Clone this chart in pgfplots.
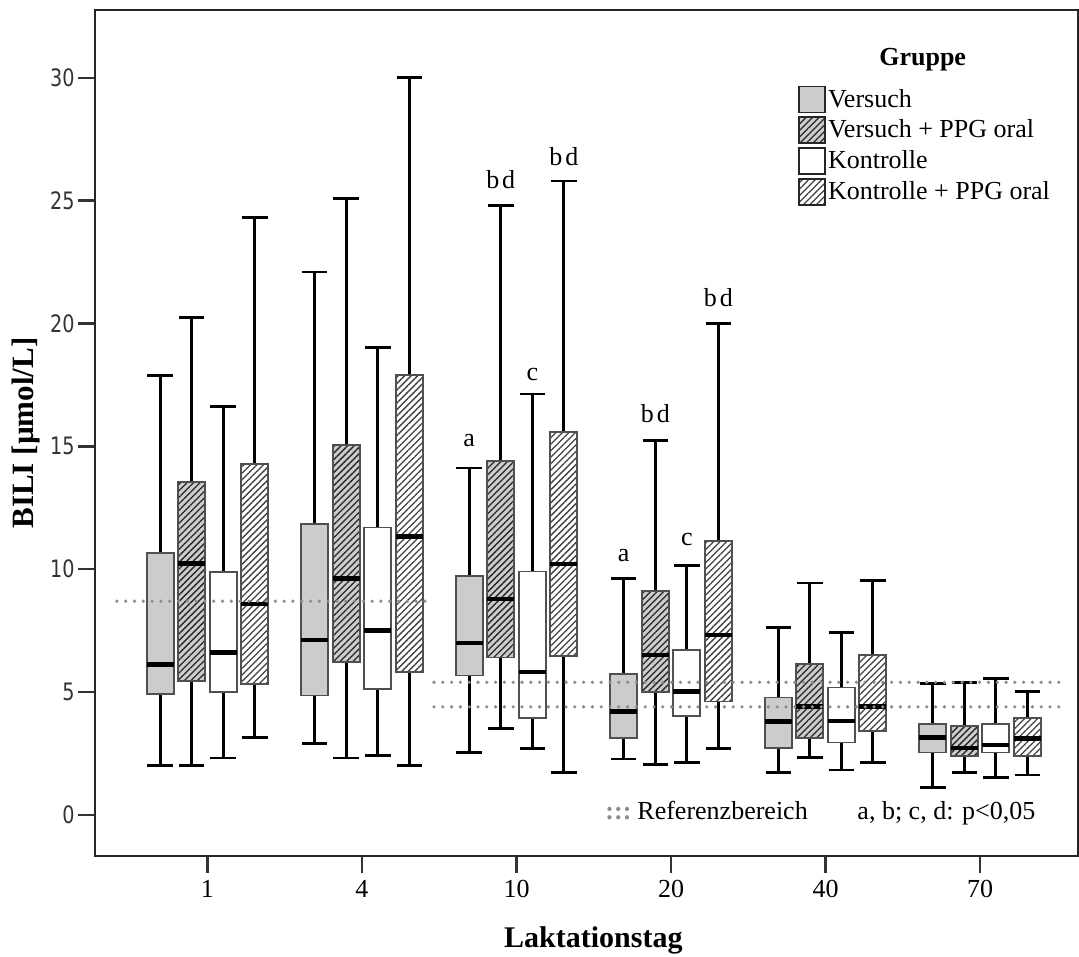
\documentclass[border=0pt]{standalone}
\usepackage{fontspec}
\setmainfont{Liberation Serif}
\newfontfamily\tickfont{DejaVu Sans}[FakeStretch=0.8]
\usepackage{pgfplots}
\pgfplotsset{compat=1.18}
\usepgfplotslibrary{statistics}
\usetikzlibrary{patterns.meta}
\definecolor{boxgray}{HTML}{CCCCCC}
\definecolor{edgegray}{HTML}{505050}
\definecolor{refgray}{HTML}{8C8C8C}

\pgfplotsset{
  bxbase/.style={boxplot/draw direction=y, boxplot/box extend=0.175, boxplot/whisker extend=0.165,
    boxplot/every whisker/.style={black, line width=1.4pt},
    boxplot/every median/.style={black, line width=2.2pt}},
  sV/.style={bxbase, boxplot/every box/.style={draw=edgegray, line width=0.9pt, fill=boxgray}},
  sVP/.style={bxbase, boxplot/every box/.style={draw=edgegray, line width=0.9pt, fill=boxgray,
    postaction={pattern={Lines[angle=45,distance=2.3pt,line width=0.65pt]}, pattern color=black!85}}},
  sK/.style={bxbase, boxplot/every box/.style={draw=edgegray, line width=0.9pt, fill=white}},
  sKP/.style={bxbase, boxplot/every box/.style={draw=edgegray, line width=0.9pt, fill=white,
    postaction={pattern={Lines[angle=45,distance=2.3pt,line width=0.65pt]}, pattern color=black!75}}},
}
% position, lower whisker, Q1, median, Q3, upper whisker, style
\newcommand{\bx}[7]{\addplot[forget plot, #7, boxplot prepared={draw position=#1,
  lower whisker=#2, lower quartile=#3, median=#4, upper quartile=#5, upper whisker=#6}] coordinates {};}

\begin{document}
\begin{tikzpicture}
\begin{axis}[
    scale only axis,
    width=491.5pt, height=423pt,
    xmin=-0.728, xmax=5.634,
    ymin=-1.67, ymax=32.76,
    xtick={0,1,2,3,4,5},
    xticklabels={1,4,10,20,40,70},
    ytick={0,5,10,15,20,25,30},
    tick align=outside,
    xtick pos=lower, ytick pos=left,
    major tick length=8.5pt,
    tick style={black!80, line width=1.2pt},
    axis line style={black!85, line width=1.1pt},
    /pgf/number format/assume math mode=true,
    xticklabel style={font=\fontsize{13}{15}\selectfont},
    yticklabel style={font=\tickfont\fontsize{12}{14}\selectfont, text=black!80, inner sep=1.5pt},
    xlabel={\textbf{Laktationstag}},
    ylabel={\textbf{BILI [µmol/L]}},
    xlabel style={font=\fontsize{15}{18}\selectfont, at={(rel axis cs:0.507,-0.1087)}, anchor=base},
    ylabel style={font=\fontsize{15.5}{18}\selectfont, at={(rel axis cs:-0.0702,0.5)}, anchor=center},
    legend image code/.code={\draw[#1] (0pt,-6.5pt) rectangle (13pt,6.5pt);},
    legend style={at={(rel axis cs:0.715,0.911)}, anchor=north west, draw=none, fill=none,
      inner sep=0pt, row sep=1.5pt, nodes={inner sep=1pt}, font=\fontsize{13}{15}\selectfont},
    legend cell align=left,
]
% Tag 1
\bx{-0.306}{2.03}{4.93}{6.13}{10.67}{17.9}{sV}
\bx{-0.102}{2.03}{5.44}{10.23}{13.55}{20.23}{sVP}
\bx{0.102}{2.32}{5.0}{6.61}{9.89}{16.63}{sK}
\bx{0.306}{3.15}{5.34}{8.58}{14.3}{24.3}{sKP}
% Tag 4
\bx{0.694}{2.91}{4.86}{7.12}{11.83}{22.1}{sV}
\bx{0.898}{2.32}{6.21}{9.62}{15.07}{25.1}{sVP}
\bx{1.102}{2.43}{5.12}{7.51}{11.7}{19.03}{sK}
\bx{1.306}{2.03}{5.82}{11.34}{17.9}{30.0}{sKP}
% Tag 10
\bx{1.694}{2.54}{5.68}{6.99}{9.74}{14.12}{sV}
\bx{1.898}{3.53}{6.41}{8.8}{14.42}{24.8}{sVP}
\bx{2.102}{2.72}{3.94}{5.81}{9.91}{17.13}{sK}
\bx{2.306}{1.72}{6.48}{10.21}{15.59}{25.8}{sKP}
% Tag 20
\bx{2.694}{2.28}{3.12}{4.21}{5.74}{9.61}{sV}
\bx{2.898}{2.04}{5.0}{6.52}{9.12}{15.23}{sVP}
\bx{3.102}{2.13}{4.03}{5.02}{6.72}{10.14}{sK}
\bx{3.306}{2.72}{4.62}{7.33}{11.16}{20.0}{sKP}
% Tag 40
\bx{3.694}{1.72}{2.72}{3.81}{4.78}{7.63}{sV}
\bx{3.898}{2.34}{3.12}{4.41}{6.14}{9.44}{sVP}
\bx{4.102}{1.83}{2.95}{3.83}{5.19}{7.44}{sK}
\bx{4.306}{2.15}{3.43}{4.41}{6.52}{9.53}{sKP}
% Tag 70
\bx{4.694}{1.11}{2.54}{3.15}{3.71}{5.36}{sV}
\bx{4.898}{1.72}{2.4}{2.72}{3.63}{5.4}{sVP}
\bx{5.102}{1.53}{2.54}{2.85}{3.71}{5.54}{sK}
\bx{5.306}{1.63}{2.4}{3.12}{3.94}{5.02}{sKP}

% Referenzbereich
\addplot[forget plot, refgray, line width=1.8pt, line cap=round, dash pattern=on 0pt off 4.4pt]
  coordinates {(-0.586,8.7) (1.453,8.7)};
\addplot[forget plot, refgray, line width=1.8pt, line cap=round, dash pattern=on 0pt off 4.4pt]
  coordinates {(1.466,5.4) (5.518,5.4)};
\addplot[forget plot, refgray, line width=1.8pt, line cap=round, dash pattern=on 0pt off 4.4pt]
  coordinates {(1.466,4.4) (5.518,4.4)};

% legend
\addlegendimage{draw=black!85, line width=0.9pt, fill=boxgray}
\addlegendentry{Versuch}
\addlegendimage{draw=black!85, line width=0.9pt, fill=boxgray,
  postaction={pattern={Lines[angle=45,distance=2.3pt,line width=0.65pt]}, pattern color=black!85}}
\addlegendentry{Versuch + PPG oral}
\addlegendimage{draw=black!85, line width=0.9pt, fill=white}
\addlegendentry{Kontrolle}
\addlegendimage{draw=black!85, line width=0.9pt, fill=white,
  postaction={pattern={Lines[angle=45,distance=2.3pt,line width=0.65pt]}, pattern color=black!75}}
\addlegendentry{Kontrolle + PPG oral}

\node[anchor=base, font=\fontsize{13}{15}\selectfont\bfseries] at (rel axis cs:0.842,0.934) {Gruppe};

% Signifikanzbuchstaben
\begin{scope}[every node/.style={anchor=base, font=\fontsize{13}{15}\selectfont}]
\node at (axis cs:1.694,15.0) {a};
\node at (axis cs:1.898,25.5) {b\hspace{1.5pt}d};
\node at (axis cs:2.102,17.7) {c};
\node at (axis cs:2.306,26.42) {b\hspace{1.5pt}d};
\node at (axis cs:2.694,10.31) {a};
\node at (axis cs:2.898,15.96) {b\hspace{1.5pt}d};
\node at (axis cs:3.102,10.96) {c};
\node at (axis cs:3.306,20.7) {b\hspace{1.5pt}d};
\end{scope}

\node[anchor=base west, font=\fontsize{13}{15}\selectfont\bfseries, text=refgray, inner sep=0pt] at (axis cs:2.573,-0.2) {:::};
\node[anchor=base west, font=\fontsize{13}{15}\selectfont, inner sep=0pt] at (axis cs:2.78,-0.2) {Referenzbereich};
\node[anchor=base west, font=\fontsize{13}{15}\selectfont, inner sep=0pt] at (axis cs:4.204,-0.2) {a, b; c, d: p<0,05};
\end{axis}
\pgfresetboundingbox
\path ([xshift=-47.5pt,yshift=-50pt]current axis.south west) rectangle ([xshift=0.5pt,yshift=5pt]current axis.north east);
\end{tikzpicture}
\end{document}
